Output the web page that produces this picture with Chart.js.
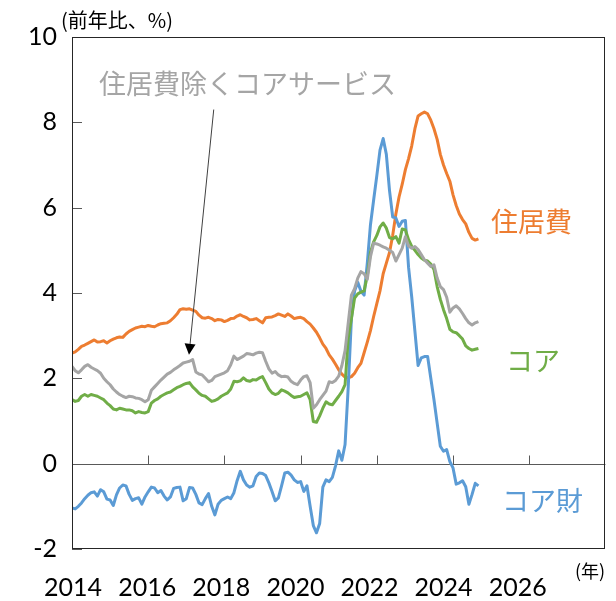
<!DOCTYPE html>
<html><head><meta charset="utf-8">
<script src="https://cdn.jsdelivr.net/npm/chart.js@4.4.1/dist/chart.umd.min.js"></script>
<style>html,body{margin:0;padding:0;background:#fff}canvas{display:block}</style>
</head><body>
<canvas id="c" width="616" height="601"></canvas>
<script>
// Monthly data, Jan 2014 onward (前年比, %)
const startYear = 2014;
const housing = [2.59,2.62,2.68,2.75,2.78,2.82,2.86,2.90,2.85,2.86,2.88,2.83,
 2.88,2.92,2.95,2.97,2.96,3.04,3.10,3.14,3.18,3.20,3.22,3.21,
 3.24,3.22,3.21,3.25,3.28,3.29,3.30,3.35,3.42,3.50,3.61,3.63,
 3.62,3.63,3.60,3.57,3.48,3.42,3.41,3.43,3.40,3.35,3.38,3.37,
 3.33,3.36,3.40,3.41,3.46,3.49,3.45,3.42,3.37,3.38,3.40,3.35,
 3.30,3.42,3.43,3.44,3.47,3.51,3.48,3.45,3.51,3.46,3.40,3.42,
 3.43,3.40,3.33,3.27,3.18,3.08,2.95,2.80,2.70,2.55,2.45,2.33,
 2.20,2.10,2.03,2.01,2.04,2.12,2.25,2.35,2.60,2.85,3.12,3.45,
 3.75,4.05,4.45,4.70,4.95,5.35,5.85,6.25,6.55,6.89,7.15,7.45,
 7.85,8.15,8.20,8.24,8.20,8.05,7.85,7.60,7.25,7.00,6.80,6.62,
 6.30,6.05,5.85,5.72,5.62,5.42,5.28,5.24,5.27];
const servicesExHousing = [2.28,2.18,2.13,2.20,2.28,2.32,2.26,2.22,2.18,2.12,2.00,1.92,
 1.85,1.75,1.68,1.62,1.58,1.55,1.58,1.57,1.54,1.53,1.50,1.45,
 1.50,1.72,1.80,1.88,1.96,2.03,2.10,2.14,2.20,2.25,2.30,2.36,
 2.38,2.40,2.44,2.15,2.10,2.08,2.00,1.92,1.95,2.04,2.07,2.10,
 2.13,2.18,2.32,2.52,2.44,2.48,2.52,2.58,2.57,2.55,2.59,2.61,
 2.60,2.40,2.22,2.12,2.16,2.08,2.04,2.05,2.03,1.93,1.88,1.85,
 1.96,2.04,2.06,1.90,1.30,1.38,1.50,1.60,1.70,1.92,1.90,1.95,
 2.05,2.30,2.65,3.30,3.95,4.10,4.35,4.50,4.45,4.32,4.85,5.17,
 5.15,5.12,5.08,5.05,5.00,4.95,4.75,4.90,5.05,5.32,5.10,5.05,
 5.09,5.02,4.90,4.78,4.70,4.62,4.66,4.35,4.15,4.08,3.90,3.55,
 3.65,3.70,3.63,3.52,3.40,3.30,3.25,3.30,3.33];
const core = [1.50,1.46,1.48,1.58,1.62,1.58,1.62,1.60,1.58,1.54,1.50,1.42,
 1.36,1.28,1.26,1.30,1.28,1.26,1.26,1.24,1.19,1.22,1.20,1.19,
 1.22,1.42,1.48,1.52,1.58,1.62,1.66,1.68,1.73,1.78,1.81,1.85,
 1.88,1.90,1.80,1.73,1.65,1.60,1.58,1.52,1.46,1.48,1.52,1.58,
 1.62,1.66,1.75,1.93,1.92,1.94,2.01,1.95,1.93,1.97,1.96,2.01,
 2.04,1.90,1.75,1.66,1.62,1.65,1.73,1.70,1.66,1.60,1.55,1.57,
 1.58,1.62,1.66,1.50,0.99,0.97,1.12,1.30,1.45,1.40,1.38,1.48,
 1.58,1.69,1.85,2.95,3.40,3.88,3.98,4.02,4.05,4.40,4.95,5.20,
 5.35,5.55,5.64,5.52,5.30,5.27,5.32,5.17,5.50,5.48,5.25,5.09,
 5.00,4.90,4.82,4.77,4.75,4.68,4.55,4.15,3.85,3.61,3.40,3.15,
 3.09,3.07,3.00,2.92,2.76,2.70,2.66,2.68,2.70];
const coreGoods = [-1.04,-1.06,-1.00,-0.92,-0.82,-0.74,-0.68,-0.66,-0.76,-0.61,-0.66,-0.83,
 -0.85,-0.98,-0.73,-0.57,-0.50,-0.52,-0.72,-0.86,-0.82,-0.80,-0.95,-0.78,
 -0.66,-0.55,-0.57,-0.68,-0.63,-0.76,-0.85,-0.78,-0.58,-0.56,-0.55,-0.87,
 -0.82,-0.56,-0.57,-0.72,-0.92,-0.96,-0.82,-0.70,-1.00,-1.20,-0.95,-0.86,
 -0.82,-0.78,-0.82,-0.68,-0.40,-0.18,-0.38,-0.50,-0.55,-0.52,-0.30,-0.22,
 -0.23,-0.28,-0.45,-0.65,-0.87,-0.80,-0.52,-0.22,-0.20,-0.27,-0.38,-0.44,
 -0.42,-0.65,-0.52,-1.00,-1.45,-1.62,-1.40,-0.55,-0.38,-0.42,-0.32,-0.05,
 0.30,0.08,0.45,1.80,3.40,4.05,4.25,4.04,3.95,4.70,5.60,6.18,
 6.75,7.35,7.62,7.25,6.40,5.78,5.76,5.56,5.68,5.70,4.60,3.90,
 3.10,2.30,2.48,2.51,2.51,2.00,1.50,0.95,0.41,0.29,0.33,0.05,
 -0.10,-0.48,-0.45,-0.40,-0.54,-0.95,-0.72,-0.46,-0.52];
const xTickYears = [2014,2016,2018,2020,2022,2024,2026];
const yTickValues = [-2,0,2,4,6,8,10];
const yTickLabels = ['-2','0','2','4','6','8','10'];

const ORANGE = '#ED7D31', GREY = '#A5A5A5', GREEN = '#70AD47', BLUE = '#5B9BD5';
const monthX = housing.map((_, i) => startYear + i / 12);
const toPts = arr => arr.map((v, i) => ({x: monthX[i], y: v}));
const mk = (label, arr, color) => ({label, data: toPts(arr), borderColor: color, backgroundColor: color,
  borderWidth: 3, pointRadius: 0, fill: false, tension: 0, xAxisID: 'x', yAxisID: 'y', borderJoinStyle: 'round'});

const CJK = '"Noto Sans CJK JP", "Noto Sans", sans-serif';
const NUM = 'Lato, "Noto Sans", sans-serif';

const deco = {
  id: 'deco',
  beforeDatasetsDraw(chart) {
    const {ctx, chartArea: a, scales: {x, y}} = chart;
    ctx.save();
    const y0 = Math.round(y.getPixelForValue(0)) + 0.5;
    ctx.strokeStyle = '#595959'; ctx.lineWidth = 1;
    ctx.beginPath();
    ctx.moveTo(a.left, y0); ctx.lineTo(a.right, y0);
    for (const t of xTickYears) {
      const px = Math.round(x.getPixelForValue(t)) + 0.5;
      ctx.moveTo(px, y0); ctx.lineTo(px, y0 - 9);
    }
    for (const v of yTickValues) {
      const py = Math.round(y.getPixelForValue(v)) + 0.5;
      ctx.moveTo(a.left, py); ctx.lineTo(a.left + 10, py);
    }
    ctx.stroke();
    ctx.restore();
  },
  afterDatasetsDraw(chart) {
    const {ctx, chartArea: a, scales: {x, y}} = chart;
    ctx.save();
    // plot border
    ctx.strokeStyle = '#262626'; ctx.lineWidth = 1;
    ctx.strokeRect(Math.round(a.left) + 0.5, Math.round(a.top) + 0.5, Math.round(a.right - a.left) - 1, Math.round(a.bottom - a.top) - 1);
    // y tick labels
    ctx.fillStyle = '#000000';
    ctx.font = '25px ' + NUM;
    ctx.textAlign = 'right'; ctx.textBaseline = 'middle';
    yTickValues.forEach((v, i) => {
      ctx.fillText(yTickLabels[i], a.left - 15, y.getPixelForValue(v));
    });
    // arrow
    const sx = x.getPixelForValue(2017.72), sy = y.getPixelForValue(8.3);
    const tx = x.getPixelForValue(2017.07), ty = y.getPixelForValue(2.55);
    const ang = Math.atan2(ty - sy, tx - sx);
    const L = 11, W = 5.5;
    const bx = tx - L * Math.cos(ang), by = ty - L * Math.sin(ang);
    ctx.strokeStyle = '#404040'; ctx.lineWidth = 1;
    ctx.beginPath(); ctx.moveTo(sx, sy); ctx.lineTo(bx, by); ctx.stroke();
    ctx.fillStyle = '#000';
    ctx.beginPath();
    ctx.moveTo(tx, ty);
    ctx.lineTo(bx + W * Math.sin(ang), by - W * Math.cos(ang));
    ctx.lineTo(bx - W * Math.sin(ang), by + W * Math.cos(ang));
    ctx.closePath(); ctx.fill();
    // texts
    ctx.textBaseline = 'middle'; ctx.textAlign = 'left';
    ctx.font = '27px ' + CJK;
    ctx.fillStyle = GREY; ctx.fillText('住居費除くコアサービス', 99, 84);
    ctx.fillStyle = ORANGE; ctx.fillText('住居費', 491, 222);
    ctx.fillStyle = GREEN; ctx.fillText('コア', 506, 361);
    ctx.fillStyle = BLUE; ctx.fillText('コア財', 502, 501);
    ctx.fillStyle = '#000';
    ctx.font = '20px ' + CJK; ctx.fillText('(前年比、%)', 61, 20);
    ctx.font = '18px ' + CJK; ctx.fillText('(年)', 575, 571);
    ctx.restore();
  }
};

new Chart(document.getElementById('c'), {
  type: 'line',
  data: {datasets: [
    mk('住居費除くコアサービス', servicesExHousing, GREY),
    mk('コア', core, GREEN),
    mk('コア財', coreGoods, BLUE),
    mk('住居費', housing, ORANGE)
  ]},
  options: {
    responsive: false, animation: false, devicePixelRatio: 1,
    layout: {padding: {left: 0, right: 9, top: 37, bottom: 0}},
    plugins: {legend: {display: false}, tooltip: {enabled: false}},
    scales: {
      x: {type: 'linear', axis: 'x', min: 2014, max: 2028, display: false},
      xl: {type: 'linear', axis: 'x', position: 'bottom', min: 2013.97, max: 2028.37,
        afterFit(s) { s.height = 52; },
        grid: {display: false, drawTicks: false}, border: {display: false},
        ticks: {stepSize: 2, includeBounds: false, padding: 24, color: '#000', maxRotation: 0, autoSkip: false,
          font: {family: NUM, size: 25},
          callback: v => xTickYears.includes(Math.round(v)) ? String(Math.round(v)) : ''}},
      y: {type: 'linear', min: -2, max: 10,
        afterFit(s) { s.width = 72; },
        grid: {display: false, drawTicks: false}, border: {display: false},
        ticks: {stepSize: 2, display: false}}
    }
  },
  plugins: [deco]
});
</script>
</body></html>
